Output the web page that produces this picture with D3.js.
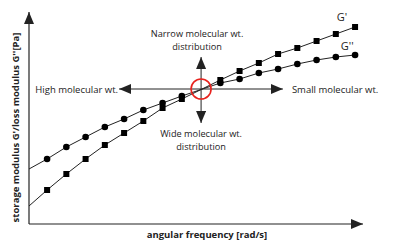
<!DOCTYPE html>
<html>
<head>
<meta charset="utf-8">
<script src="https://cdn.jsdelivr.net/npm/d3@7"></script>
<style>
  html, body { margin: 0; padding: 0; background: #fff; }
  svg { display: block; }
  text { font-family: "Open Sans", "Noto Sans", sans-serif; fill: #222; }
</style>
</head>
<body>
<div id="chart"></div>
<script>
// angular frequency (arbitrary, log spaced), marker positions
const freq = [1, 2, 3, 4, 5, 6, 7, 8, 10, 11, 12, 13, 14, 15, 16, 17];
// storage modulus G' (squares)
const gPrime = [34, 50, 65, 79, 91, 103, 116, 125, 144, 153, 161, 170, 176, 183, 190, 197];
// loss modulus G'' (circles)
const gDouble = [65, 77, 87, 97, 105, 114, 121, 128, 141, 145, 151, 155, 160, 164, 167, 169];
// where the lines meet the y axis
const startFreq = 0.06;
const gPrimeStart = 18;
const gDoubleStart = 55;
// crossover point and the arrows drawn around it
const crossFreq = 9;
const crossValue = 135;
const arrowFreqRange = [4.74, 13.25];
const arrowValueRange = [101, 167];

const labels = {
  high: "High molecular wt.",
  small: "Small molecular wt.",
  narrow: ["Narrow molecular wt.", "distribution"],
  wide: ["Wide molecular wt.", "distribution"],
  x: "angular frequency [rad/s]",
  y: "storage modulus G'/loss modulus G''[Pa]"
};

const W = 413, H = 249;
const svg = d3.select("#chart").append("svg")
  .attr("width", W).attr("height", H);

const x = d3.scaleLinear().domain([startFreq, 17.36]).range([29, 362]);
const y = d3.scaleLinear().domain([0, 211]).range([224, 13]);

const ink = "#222";

// arrowheads
const defs = svg.append("defs");
defs.append("marker")
  .attr("id", "arr")
  .attr("viewBox", "0 0 12 10")
  .attr("refX", 12).attr("refY", 5)
  .attr("markerWidth", 12).attr("markerHeight", 10)
  .attr("markerUnits", "userSpaceOnUse")
  .attr("orient", "auto")
  .append("path").attr("d", "M0,0 L12,5 L0,10 Z").attr("fill", ink);

// axes (no ticks, just arrows)
svg.append("line")
  .attr("x1", x.range()[0]).attr("y1", y(0))
  .attr("x2", x.range()[0]).attr("y2", y.range()[1] - 1)
  .attr("stroke", ink).attr("stroke-width", 1.2)
  .attr("marker-end", "url(#arr)");
svg.append("line")
  .attr("x1", x.range()[0]).attr("y1", y(0))
  .attr("x2", x.range()[1] + 1).attr("y2", y(0))
  .attr("stroke", ink).attr("stroke-width", 1.2)
  .attr("marker-end", "url(#arr)");

// series lines
const line = d3.line().x(d => x(d[0])).y(d => y(d[1]));
const gpData = [[startFreq, gPrimeStart]].concat(freq.map((f, i) => [f, gPrime[i]]));
const gdData = [[startFreq, gDoubleStart]].concat(freq.map((f, i) => [f, gDouble[i]]));

svg.append("path").datum(gpData).attr("d", line)
  .attr("fill", "none").attr("stroke", ink).attr("stroke-width", 1);
svg.append("path").datum(gdData).attr("d", line)
  .attr("fill", "none").attr("stroke", ink).attr("stroke-width", 1);

// markers
svg.selectAll(".sq").data(freq).enter().append("rect")
  .attr("class", "sq")
  .attr("x", (d) => x(d) - 3).attr("y", (d, i) => y(gPrime[i]) - 3)
  .attr("width", 6).attr("height", 6)
  .attr("fill", "#000");
svg.selectAll(".dot").data(freq).enter().append("circle")
  .attr("class", "dot")
  .attr("cx", (d) => x(d)).attr("cy", (d, i) => y(gDouble[i]))
  .attr("r", 3.3)
  .attr("fill", "#000");

// crossover arrows
const cx = x(crossFreq), cy = y(crossValue);
[[cx, x(arrowFreqRange[0])], [cx, x(arrowFreqRange[1])]].forEach(p => {
  svg.append("line").attr("x1", p[0]).attr("y1", cy).attr("x2", p[1]).attr("y2", cy)
    .attr("stroke", ink).attr("stroke-width", 1).attr("marker-end", "url(#arr)");
});
[y(arrowValueRange[0]), y(arrowValueRange[1])].forEach(v => {
  svg.append("line").attr("x1", cx).attr("y1", cy).attr("x2", cx).attr("y2", v)
    .attr("stroke", ink).attr("stroke-width", 1).attr("marker-end", "url(#arr)");
});
svg.append("circle").attr("cx", cx).attr("cy", cy).attr("r", 10)
  .attr("fill", "none").attr("stroke", "#e8231e").attr("stroke-width", 1.6);

// annotation text
const fs = 9.5;
svg.append("text").attr("x", x(arrowFreqRange[0]) - 1).attr("y", cy + 3.5)
  .attr("text-anchor", "end").attr("font-size", fs).text(labels.high);
svg.append("text").attr("x", x(arrowFreqRange[1]) + 9).attr("y", cy + 3.5)
  .attr("text-anchor", "start").attr("font-size", fs).text(labels.small);

// two-line labels as one text element with tspans
let twoLine = (lines, px, py) => {
  const t = svg.append("text").attr("text-anchor", "middle").attr("font-size", 9.2);
  lines.forEach((s, i) => {
    t.append("tspan").attr("x", px).attr("y", py + i * 12.6).text(s);
  });
};
twoLine(labels.narrow, cx - 4, 37);
twoLine(labels.wide, cx, 137);

// series labels
svg.append("text").attr("x", x(16) + 1).attr("y", y(gPrime[14]) - 13)
  .attr("font-size", 11).text("G'");
svg.append("text").attr("x", x(16) + 5).attr("y", y(gDouble[14]) - 7)
  .attr("font-size", 11).text("G''");

// axis titles
svg.append("text").attr("x", 207).attr("y", 238)
  .attr("text-anchor", "middle").attr("font-size", 9.5).attr("font-weight", "bold")
  .text(labels.x);
svg.append("text")
  .attr("transform", `translate(19,${(y.range()[0] + y.range()[1]) / 2 + 9}) rotate(-90)`)
  .attr("text-anchor", "middle").attr("font-size", 9.5).attr("font-weight", "bold")
  .text(labels.y);
</script>
</body>
</html>
